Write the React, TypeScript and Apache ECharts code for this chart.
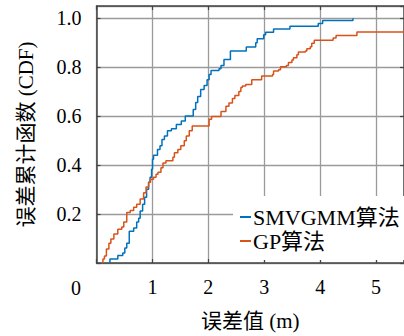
import React, { useEffect, useRef } from "react";
import * as echarts from "echarts";

const xTicks = [0, 1, 2, 3, 4, 5];
const yTicks = [0, 0.2, 0.4, 0.6, 0.8, 1.0];

const seriesNames = ["SMVGMM算法", "GP算法"];

const smvgmmX = [0.24, 0.24, 0.381, 0.47, 0.506, 0.541, 0.586, 0.665, 0.719, 0.754, 0.781, 0.825, 0.861, 0.896, 0.932, 0.958, 0.985, 1.002, 1.02, 1.091, 1.136, 1.171, 1.215, 1.269, 1.34, 1.428, 1.517, 1.588, 1.73, 1.774, 1.81, 1.863, 1.925, 1.978, 2.014, 2.049, 2.191, 2.227, 2.28, 2.395, 2.679, 2.848, 2.874, 2.99, 3.025, 3.167, 3.46, 3.966, 4.045, 4.587];
const smvgmmY = [0, 0.016, 0.031, 0.041, 0.061, 0.081, 0.13, 0.143, 0.167, 0.183, 0.212, 0.24, 0.269, 0.301, 0.33, 0.35, 0.383, 0.424, 0.44, 0.464, 0.479, 0.505, 0.519, 0.54, 0.548, 0.566, 0.58, 0.601, 0.627, 0.656, 0.68, 0.709, 0.725, 0.749, 0.77, 0.786, 0.794, 0.807, 0.831, 0.866, 0.882, 0.9, 0.916, 0.933, 0.943, 0.956, 0.967, 0.978, 0.991, 1.0];

const gpX = [0.115, 0.115, 0.142, 0.177, 0.222, 0.257, 0.311, 0.381, 0.452, 0.488, 0.541, 0.603, 0.665, 0.719, 0.781, 0.843, 0.887, 0.932, 0.967, 1.02, 1.065, 1.1, 1.153, 1.189, 1.242, 1.366, 1.393, 1.455, 1.508, 1.57, 1.606, 1.659, 1.712, 2.014, 2.058, 2.227, 2.315, 2.369, 2.431, 2.475, 2.546, 2.582, 2.608, 2.67, 2.777, 2.954, 3.149, 3.167, 3.256, 3.291, 3.398, 3.433, 3.495, 3.522, 3.584, 3.611, 3.735, 3.762, 3.824, 3.85, 3.895, 4.232, 4.285, 4.658, 5.8];
const gpY = [0, 0.016, 0.029, 0.057, 0.081, 0.098, 0.118, 0.138, 0.147, 0.167, 0.206, 0.214, 0.228, 0.24, 0.261, 0.287, 0.31, 0.33, 0.342, 0.35, 0.363, 0.371, 0.389, 0.409, 0.418, 0.432, 0.45, 0.464, 0.479, 0.499, 0.519, 0.54, 0.56, 0.587, 0.599, 0.619, 0.64, 0.654, 0.672, 0.684, 0.701, 0.717, 0.723, 0.729, 0.749, 0.764, 0.77, 0.784, 0.79, 0.802, 0.807, 0.819, 0.829, 0.839, 0.851, 0.862, 0.866, 0.875, 0.884, 0.898, 0.91, 0.919, 0.929, 0.944, 0.944];

const FONT = "Liberation Serif, Noto Sans CJK SC, serif";

export default function App() {
  const ref = useRef<HTMLDivElement>(null);
  useEffect(() => {
    if (!ref.current) return;
    const chart = echarts.init(ref.current, undefined, { renderer: "svg" });
    const zip = (xs: number[], ys: number[]) => xs.map((x, i) => [x, ys[i]]);
    const gridColor = "#9a9a9a";
    const axisColor = "#444";
    const tickStyle = { show: true, inside: true, length: 4, lineStyle: { color: axisColor, width: 1.2 } };
    chart.setOption({
      animation: false,
      textStyle: { fontFamily: FONT },
      grid: { left: 96.5, top: 6, width: 310, height: 258 },
      legend: {
        orient: "vertical",
        left: 233,
        top: 196,
        padding: [10, 10, 8, 7],
        itemGap: 2,
        itemWidth: 11,
        itemHeight: 2,
        backgroundColor: "#fff",
        data: seriesNames.map((n) => ({ name: n, icon: "rect" })),
        textStyle: { fontFamily: FONT, fontSize: 22, color: "#000", padding: [0, 0, 0, -3] },
      },
      xAxis: [
        {
          type: "value",
          min: 0,
          max: 5.5,
          interval: 1,
          name: "误差值 (m)",
          nameLocation: "middle",
          nameGap: 47,
          nameTextStyle: { fontFamily: FONT, fontSize: 21, color: "#000" },
          axisLine: { show: true, onZero: false, lineStyle: { color: axisColor, width: 1.5 } },
          axisTick: tickStyle,
          axisLabel: {
            margin: 14,
            fontFamily: FONT,
            fontSize: 20,
            color: "#000",
            showMaxLabel: false,
            formatter: (v: number) => (xTicks.includes(v) && v !== 0 ? String(v) : ""),
          },
          splitLine: { show: true, lineStyle: { color: gridColor, width: 1.3 } },
        },
        {
          type: "value",
          position: "top",
          min: 0,
          max: 5.5,
          interval: 1,
          axisLine: { show: true, onZero: false, lineStyle: { color: axisColor, width: 1.5 } },
          axisTick: tickStyle,
          axisLabel: { show: false },
          splitLine: { show: false },
        },
      ],
      yAxis: [
        {
          type: "value",
          min: 0,
          max: 1.05,
          interval: 0.2,
          name: "误差累计函数 (CDF)",
          nameLocation: "middle",
          nameRotate: 90,
          nameGap: 60,
          nameTextStyle: { fontFamily: FONT, fontSize: 21, color: "#000" },
          axisLine: { show: true, onZero: false, lineStyle: { color: axisColor, width: 1.5 } },
          axisTick: tickStyle,
          axisLabel: {
            margin: 15,
            fontFamily: FONT,
            fontSize: 20,
            color: "#000",
            showMaxLabel: false,
            formatter: (v: number) => {
              const r = Math.round(v * 10) / 10;
              return yTicks.includes(r) && r !== 0 && Math.abs(v - r) < 1e-6 ? r.toFixed(1) : "";
            },
          },
          splitLine: { show: true, lineStyle: { color: gridColor, width: 1.3 } },
        },
        {
          type: "value",
          position: "right",
          min: 0,
          max: 1.05,
          interval: 0.2,
          axisLine: { show: true, onZero: false, lineStyle: { color: axisColor, width: 1.5 } },
          axisTick: tickStyle,
          axisLabel: { show: false },
          splitLine: { show: false },
        },
      ],
      graphic: [
        {
          type: "text",
          x: 76,
          y: 288,
          style: { text: "0", fontFamily: FONT, fontSize: 20, fill: "#000", align: "center", verticalAlign: "middle" },
        },
      ],
      series: [
        {
          name: seriesNames[0],
          type: "line",
          step: "end",
          showSymbol: false,
          symbol: "none",
          data: zip(smvgmmX, smvgmmY),
          lineStyle: { color: "#0072BD", width: 1.5 },
          itemStyle: { color: "#0072BD" },
          z: 3,
        },
        {
          name: seriesNames[1],
          type: "line",
          step: "end",
          showSymbol: false,
          symbol: "none",
          data: zip(gpX, gpY),
          lineStyle: { color: "#D95319", width: 1.5 },
          itemStyle: { color: "#D95319" },
          z: 3,
        },
      ],
    });
    return () => chart.dispose();
  }, []);
  return (
    <div
      ref={ref}
      style={{ position: "fixed", left: 0, top: 0, width: 404, height: 336, background: "#fff" }}
    />
  );
}
